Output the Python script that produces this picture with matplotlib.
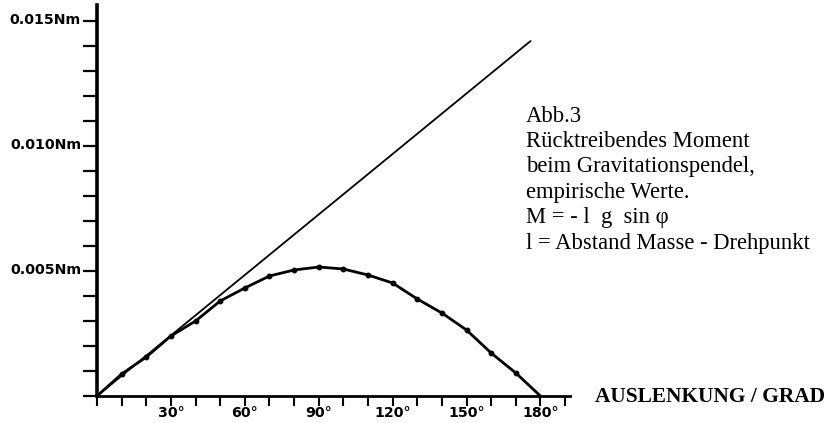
import numpy as np
import matplotlib.pyplot as plt
from matplotlib.ticker import MultipleLocator

# empirische Messwerte (Grad, Nm)
winkel = [0, 10, 20, 30, 40, 50, 60, 70, 80, 90, 100, 110, 120, 130, 140, 150, 160, 170, 180]
moment = [0, 0.00088, 0.00156, 0.0024, 0.0030, 0.0038, 0.00432, 0.0048, 0.00504, 0.00516,
          0.00508, 0.00484, 0.00452, 0.00388, 0.00332, 0.00264, 0.00172, 0.00092, 0]

# Gerade (lineare Naeherung)
gerade_x = [0, 176]
gerade_y = [0, 0.0142]

xticks = [30, 60, 90, 120, 150, 180]
xticklabels = ['30°', '60°', '90°', '120°', '150°', '180°']
yticks = [0.005, 0.010, 0.015]
yticklabels = ['0.005Nm', '0.010Nm', '0.015Nm']

W, H = 830, 423
fig = plt.figure(figsize=(W / 100, H / 100), dpi=100)
ax = fig.add_axes([97 / W, (H - 396) / H, (570 - 97) / W, (396 - 5) / H])

ax.plot(gerade_x, gerade_y, color='black', lw=1.3, solid_capstyle='round')
ax.plot(winkel, moment, color='black', lw=2.0)
ax.plot(winkel[1:-1], moment[1:-1], 'o', color='black', ms=3.2)

ax.set_xlim(0, 192)
ax.set_ylim(0, 0.01564)

for s in ['top', 'right']:
    ax.spines[s].set_visible(False)
ax.spines['left'].set_linewidth(2.6)
ax.spines['bottom'].set_linewidth(2.0)

ax.xaxis.set_major_locator(MultipleLocator(10))
ax.yaxis.set_major_locator(MultipleLocator(0.001))
ax.tick_params(axis='x', direction='out', length=7, width=1.5, labelbottom=False)
ax.tick_params(axis='y', direction='out', length=10, width=1.6, labelleft=False)

tick_font = dict(family='DejaVu Sans', weight='bold', size=10.2, color='black')
for v, lab in zip(xticks, xticklabels):
    ax.annotate(lab, xy=(v, 0), xycoords=('data', 'axes fraction'),
                xytext=(0, -12.5), textcoords='offset points',
                ha='center', va='center', **tick_font)
for v, lab in zip(yticks, yticklabels):
    ax.annotate(lab, xy=(0, v), xycoords=('axes fraction', 'data'),
                xytext=(-11.5, 1), textcoords='offset points',
                ha='right', va='center', **tick_font)

fig.text(595 / W, 1 - 397 / H, 'AUSLENKUNG / GRAD', family='Liberation Serif',
         weight='bold', size=15.4, ha='left', va='center')

beschriftung = ['Abb.3',
                'Rücktreibendes Moment',
                'beim Gravitationspendel,',
                'empirische Werte.',
                'M = - l  g  sin φ',
                'l = Abstand Masse - Drehpunkt']
for i, zeile in enumerate(beschriftung):
    fig.text(526 / W, 1 - (116 + i * 25.4) / H, zeile, family='Liberation Serif',
             size=16.3, ha='left', va='center')

fig.savefig('out.png', dpi=100)
